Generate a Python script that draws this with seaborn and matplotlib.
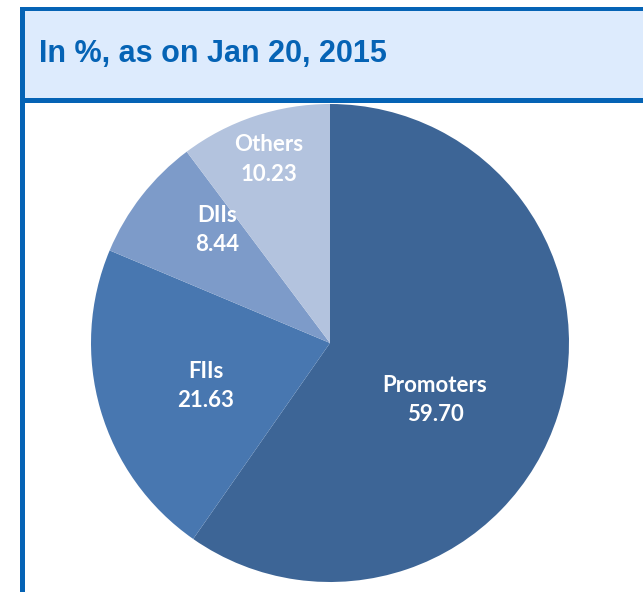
import numpy as np
import matplotlib
matplotlib.use("Agg")
import matplotlib.pyplot as plt
from matplotlib.patches import Rectangle
import seaborn as sns

# Shareholding pattern
categories = ["Promoters", "FIIs", "DIIs", "Others"]
shares = [59.70, 21.63, 8.44, 10.23]
colors = ["#3D6596", "#4877B0", "#7D9BC9", "#B3C3DE"]
title = "In %, as on Jan 20, 2015"

# label placement: fraction of radius and angular shift (degrees) per slice
label_radius = [0.50, 0.55, 0.67, 0.81]
label_shift = [-11.0, 3.0, -7.0, 0.0]

sns.set_theme(style="white")
plt.rcParams["font.family"] = ["DejaVu Sans"]

W, H, DPI = 643, 592, 100
fig = plt.figure(figsize=(W / DPI, H / DPI), dpi=DPI)
fig.patch.set_facecolor("white")

border = "#0563B5"

def px_rect(x0, y0, x1, y1, color):
    fig.patches.append(Rectangle((x0 / W, 1 - y1 / H), (x1 - x0) / W, (y1 - y0) / H,
                                 transform=fig.transFigure, facecolor=color,
                                 edgecolor="none", zorder=0))

# header band and frame
px_rect(25, 11, W, 98, "#DDEBFD")
px_rect(20, 7, W, 11, border)
px_rect(20, 98, W, 103, border)
px_rect(20, 7, 25, H, border)

fig.text(39 / W, 1 - 54 / H, title, color=border, fontsize=22, fontweight="bold",
         family=["Liberation Sans", "DejaVu Sans"], ha="left", va="center")

# pie axes: center (330, 343) px, radius 239 px
cx, cy, r = 330, 343, 239
ax = fig.add_axes([(cx - r) / W, 1 - (cy + r) / H, 2 * r / W, 2 * r / H])
wedges, _ = ax.pie(shares, colors=colors, startangle=90, counterclock=False,
                   radius=1, wedgeprops=dict(linewidth=0))
ax.set_xlim(-1, 1)
ax.set_ylim(-1, 1)
ax.set_aspect("equal")
ax.axis("off")

for w, name, val, rad, shift in zip(wedges, categories, shares, label_radius, label_shift):
    ang = np.deg2rad((w.theta1 + w.theta2) / 2 + shift)
    x, y = rad * np.cos(ang), rad * np.sin(ang)
    ax.text(x, y, f"{name}\n{val:.2f}", color="white", fontsize=16, fontweight="bold",
            family=["Lato", "DejaVu Sans"], ha="center", va="center", linespacing=1.5)

fig.savefig("out.png", dpi=DPI)
